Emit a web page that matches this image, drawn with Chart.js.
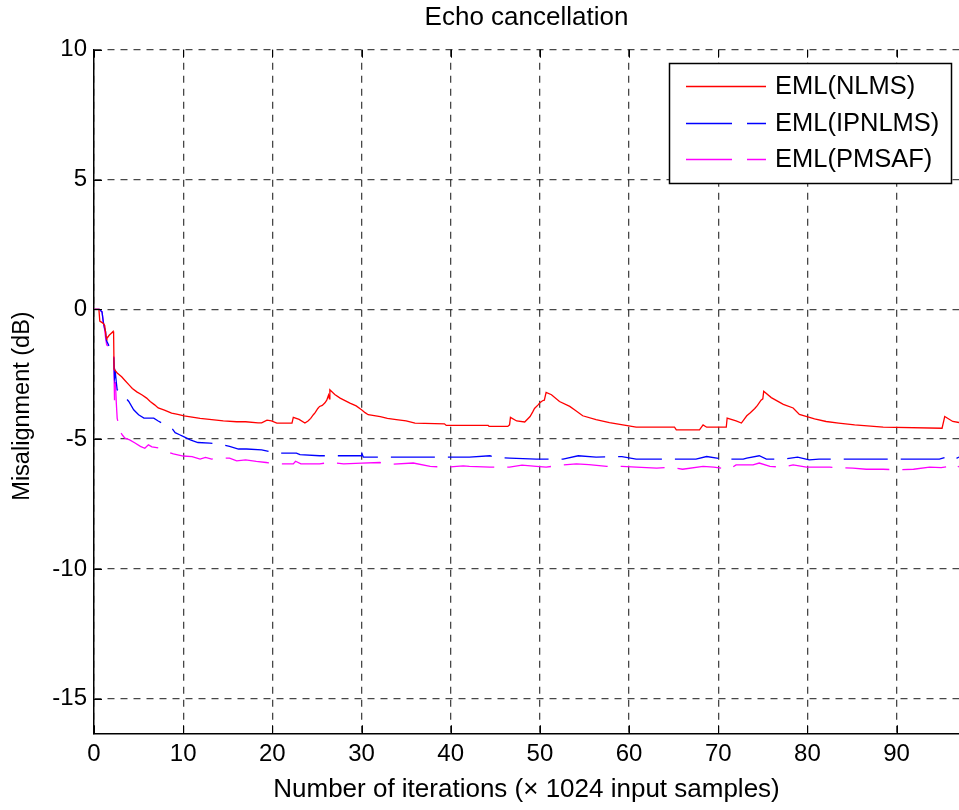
<!DOCTYPE html>
<html>
<head>
<meta charset="utf-8">
<title>Echo cancellation</title>
<script src="https://cdn.jsdelivr.net/npm/chart.js@4.4.0/dist/chart.umd.min.js"></script>
<style>
  html, body { margin: 0; padding: 0; background: #fff; }
  canvas { display: block; }
</style>
</head>
<body>
<canvas id="echoChart" width="959" height="810"></canvas>
<script>
// misalignment curves, [iteration (x1024 samples), dB]
const nlms = [
  [0, 0], [0.55, 0], [0.65, -0.45], [1.0, -0.53], [1.2, -0.62], [1.35, -1.05], [1.45, -1.12],
  [1.7, -1.0], [2.0, -0.9], [2.15, -0.85], [2.2, -0.95], [2.25, -2.3], [2.6, -2.45], [3.1, -2.6],
  [3.5, -2.75], [3.9, -2.9], [4.3, -3.05], [4.8, -3.18], [5.4, -3.3], [5.9, -3.42], [6.3, -3.55],
  [6.8, -3.68], [7.2, -3.8], [7.9, -3.88], [8.7, -4.0], [9.4, -4.05], [10.1, -4.1], [11.0, -4.15],
  [11.9, -4.2], [13.2, -4.25], [14.5, -4.3], [16.0, -4.33], [17.0, -4.33], [18.4, -4.37],
  [18.8, -4.37], [19.4, -4.27], [19.9, -4.3], [20.5, -4.38], [22.2, -4.38], [22.35, -4.16],
  [23.0, -4.24], [23.65, -4.38], [24.0, -4.3], [24.3, -4.2], [24.6, -4.06], [24.8, -3.98],
  [25.1, -3.82], [25.3, -3.74], [25.6, -3.7], [25.9, -3.6], [26.1, -3.5], [26.3, -3.3],
  [26.4, -3.45], [26.45, -3.1], [27.0, -3.28], [27.6, -3.42], [28.7, -3.61], [29.4, -3.72],
  [30.0, -3.87], [30.4, -3.98], [30.75, -4.06], [32.1, -4.13], [32.9, -4.2], [33.9, -4.25],
  [35.0, -4.3], [36.0, -4.38], [39.3, -4.41], [39.5, -4.47], [44.2, -4.47], [44.3, -4.51],
  [46.4, -4.51], [46.6, -4.45], [46.7, -4.16], [47.4, -4.3], [48.3, -4.34], [48.9, -4.13],
  [49.2, -3.95], [49.4, -3.82], [49.8, -3.68], [50.0, -3.6], [50.3, -3.52], [50.5, -3.5],
  [50.7, -3.2], [51.3, -3.29], [52.2, -3.55], [53.35, -3.74], [54.0, -3.9], [54.8, -4.1],
  [56.3, -4.25], [57.8, -4.36], [59.3, -4.45], [60.8, -4.54], [65.1, -4.54], [65.3, -4.64],
  [67.9, -4.64], [68.3, -4.45], [68.7, -4.54], [70.9, -4.54], [71.0, -4.19], [72.0, -4.3],
  [72.6, -4.38], [73.2, -4.1], [73.6, -3.98], [74.1, -3.82], [74.4, -3.7], [74.8, -3.5],
  [75.0, -3.45], [75.1, -3.16], [75.95, -3.4], [77.3, -3.66], [78.4, -3.8], [79.1, -4.05],
  [80.8, -4.22], [82.1, -4.32], [83.5, -4.38], [85.3, -4.45], [88.5, -4.54], [95.1, -4.58],
  [95.4, -4.13], [96.3, -4.32], [97, -4.36]
];

const ipnlms = [
  [0, 0], [0.6, 0], [0.9, -0.1], [1.05, -0.5], [1.2, -0.75], [1.3, -0.85], [1.4, -1.2],
  [1.6, -1.35], [1.8, -1.5], [2.0, -1.6], [2.2, -1.67], [2.3, -2.65], [2.4, -2.45], [2.5, -2.8],
  [2.6, -3.1], [2.9, -3.16], [3.4, -3.35], [3.9, -3.55], [4.45, -3.87], [5.0, -4.06],
  [5.6, -4.19], [6.2, -4.19], [6.7, -4.19], [7.2, -4.3], [7.6, -4.38], [8.2, -4.48],
  [8.7, -4.57], [9.1, -4.75], [9.6, -4.83], [10.05, -4.9], [10.8, -5.03], [11.65, -5.13],
  [13.0, -5.15], [14.2, -5.2], [15.2, -5.28], [16.2, -5.38], [17.1, -5.38], [18.8, -5.41],
  [19.7, -5.48], [20.1, -5.54], [22.7, -5.54], [23.1, -5.6], [25.3, -5.64], [27.0, -5.64],
  [30.0, -5.64], [30.05, -5.56], [30.2, -5.69], [33.0, -5.69], [36.0, -5.69], [39.15, -5.69],
  [42.1, -5.69], [44.4, -5.64], [45.0, -5.7], [46.6, -5.73], [49.6, -5.77], [52.6, -5.77],
  [54.3, -5.64], [56.3, -5.69], [59.2, -5.67], [60.8, -5.77], [64.0, -5.77], [67.5, -5.77],
  [68.7, -5.67], [70.6, -5.77], [72.8, -5.77], [73.2, -5.73], [74.6, -5.64], [75.4, -5.77],
  [77.4, -5.77], [78.9, -5.69], [80.2, -5.8], [81.3, -5.77], [82.5, -5.77], [87.7, -5.77],
  [89.4, -5.77], [93.7, -5.77], [94.8, -5.77], [95.6, -5.69], [96.4, -5.8], [97, -5.69]
];

const pmsaf = [
  [0, 0], [0.6, 0], [0.9, -0.1], [1.05, -0.5], [1.2, -0.8], [1.3, -1.1], [1.42, -1.36],
  [1.6, -1.45], [1.8, -1.5], [2.0, -1.55], [2.2, -1.6], [2.3, -3.5], [2.4, -2.8], [2.5, -3.6],
  [2.6, -4.2], [2.73, -4.38], [2.9, -4.7], [3.2, -4.85], [3.47, -4.96], [4.0, -5.03],
  [4.6, -5.15], [5.2, -5.28], [5.7, -5.35], [6.1, -5.22], [6.5, -5.3], [7.4, -5.35],
  [8.15, -5.48], [8.9, -5.57], [10.0, -5.65], [11.0, -5.67], [11.9, -5.77], [12.5, -5.7],
  [13.2, -5.77], [14.0, -5.73], [15.2, -5.73], [16.0, -5.84], [17.0, -5.8], [18.2, -5.86],
  [19.3, -5.9], [20.5, -5.95], [22.35, -5.95], [22.6, -5.85], [23.2, -5.95], [25.3, -5.95],
  [26.5, -5.9], [28.0, -5.95], [30.0, -5.92], [32.05, -5.9], [33.0, -5.97], [35.8, -5.92],
  [37.7, -6.05], [39.5, -6.08], [41.4, -6.03], [42.1, -6.05], [44.4, -6.08], [46.6, -6.08],
  [48.0, -6.0], [49.6, -6.05], [50.7, -6.08], [52.6, -5.99], [54.1, -5.95], [55.5, -5.98],
  [57.5, -6.05], [59.2, -6.05], [60.8, -6.08], [63.1, -6.12], [64.6, -6.08], [66.0, -6.16],
  [68.3, -6.05], [69.5, -6.08], [71.3, -6.16], [72.0, -5.99], [73.9, -5.99], [74.6, -5.92],
  [75.8, -6.05], [77.2, -6.08], [78.4, -5.99], [79.9, -6.08], [82.5, -6.08], [85.1, -6.12],
  [86.6, -6.16], [88.5, -6.16], [90.0, -6.18], [91.9, -6.16], [93.7, -6.08], [95.0, -6.1],
  [95.9, -6.05], [96.3, -6.15], [97, -6.05]
];

const seriesNames = ['EML(NLMS)', 'EML(IPNLMS)', 'EML(PMSAF)'];
const xTicks = [0, 10, 20, 30, 40, 50, 60, 70, 80, 90];
const yTicks = [10, 5, 0, -5, -10, -15];

const FONT = '"Liberation Sans", Arial, Helvetica, sans-serif';

function toPoints(arr) {
  return arr.map(p => ({ x: p[0], y: p[1] }));
}

// short inward tick marks on the axes box
const boxTicks = {
  id: 'boxTicks',
  afterDatasetsDraw(chart) {
    const { ctx, chartArea: a, scales: { x, y } } = chart;
    ctx.save();
    ctx.strokeStyle = '#000';
    ctx.lineWidth = 1;
    ctx.beginPath();
    xTicks.forEach(v => {
      const px = Math.round(x.getPixelForValue(v)) + 0.5;
      ctx.moveTo(px, a.bottom); ctx.lineTo(px, a.bottom - 8);
      ctx.moveTo(px, a.top); ctx.lineTo(px, a.top + 8);
    });
    yTicks.forEach(v => {
      const py = Math.round(y.getPixelForValue(v)) + 0.5;
      ctx.moveTo(a.left, py); ctx.lineTo(a.left + 8, py);
    });
    ctx.stroke();
    ctx.restore();
  }
};

// y axis label, rotated
const yLabel = {
  id: 'yLabel',
  afterDraw(chart) {
    const ctx = chart.ctx;
    ctx.save();
    ctx.translate(23, 406);
    ctx.rotate(-Math.PI / 2);
    ctx.font = '23.5px ' + FONT;
    ctx.fillStyle = '#000';
    ctx.textAlign = 'center';
    ctx.textBaseline = 'middle';
    ctx.fillText('Misalignment (dB)', 0, 0);
    ctx.restore();
  }
};

// boxed legend in the upper right corner
const boxLegend = {
  id: 'boxLegend',
  afterDraw(chart) {
    const ctx = chart.ctx;
    const left = 669.5, top = 63.5, w = 282, h = 120;
    ctx.save();
    ctx.fillStyle = '#fff';
    ctx.fillRect(left, top, w, h);
    ctx.strokeStyle = '#000';
    ctx.lineWidth = 1.5;
    ctx.strokeRect(left, top, w, h);
    const rows = [86, 123, 159];
    chart.data.datasets.forEach((ds, i) => {
      const yy = rows[i] + 0.5;
      ctx.strokeStyle = ds.borderColor;
      ctx.lineWidth = 1.3;
      ctx.setLineDash(ds.borderDash ? [46, 15] : []);
      ctx.beginPath();
      ctx.moveTo(686, yy);
      ctx.lineTo(766, yy);
      ctx.stroke();
      ctx.setLineDash([]);
      ctx.fillStyle = '#000';
      ctx.font = '25.5px ' + FONT;
      ctx.textBaseline = 'middle';
      ctx.textAlign = 'left';
      ctx.fillText(ds.label, 775, rows[i] + 1);
    });
    ctx.restore();
  }
};

new Chart(document.getElementById('echoChart'), {
  type: 'line',
  data: {
    datasets: [{
      label: seriesNames[0],
      data: toPoints(nlms),
      borderColor: 'rgb(255,0,0)',
      borderWidth: 1.3,
      pointRadius: 0,
      tension: 0,
      fill: false
    }, {
      label: seriesNames[1],
      data: toPoints(ipnlms),
      borderColor: 'rgb(0,0,255)',
      borderWidth: 1.3,
      borderDash: [44, 13],
      pointRadius: 0,
      tension: 0,
      fill: false
    }, {
      label: seriesNames[2],
      data: toPoints(pmsaf),
      borderColor: 'rgb(255,0,255)',
      borderWidth: 1.3,
      borderDash: [44, 13],
      pointRadius: 0,
      tension: 0,
      fill: false
    }]
  },
  options: {
    responsive: false,
    animation: false,
    layout: { padding: 0 },
    plugins: {
      legend: { display: false },
      tooltip: { enabled: false },
      title: {
        display: true,
        fullSize: false,
        text: 'Echo cancellation',
        color: '#000',
        font: { family: FONT, size: 26, weight: 'normal', lineHeight: 1 },
        padding: { top: 5, bottom: 18.7 }
      }
    },
    scales: {
      x: {
        type: 'linear',
        min: 0,
        max: 97,
        afterFit(s) { s.height = 76.7; },
        afterBuildTicks(s) { s.ticks = xTicks.map(v => ({ value: v })); },
        ticks: {
          color: '#000',
          font: { family: FONT, size: 24 },
          padding: 7,
          maxRotation: 0,
          includeBounds: false
        },
        grid: {
          color: 'rgba(0,0,0,0.72)',
          lineWidth: 1.3,
          drawTicks: false
        },
        border: { display: true, color: '#000', width: 1.5, dash: [7, 6] },
        title: {
          display: true,
          text: 'Number of iterations (\u00d7 1024 input samples)',
          color: '#000',
          font: { family: FONT, size: 26 },
          padding: { top: 0, bottom: 4.4 }
        }
      },
      y: {
        min: -16.33,
        max: 10,
        afterFit(s) { s.width = 94; },
        afterBuildTicks(s) { s.ticks = yTicks.map(v => ({ value: v })); },
        ticks: {
          color: '#000',
          font: { family: FONT, size: 24 },
          padding: 7
        },
        grid: {
          color: 'rgba(0,0,0,0.72)',
          lineWidth: 1.3,
          drawTicks: false
        },
        border: { display: true, color: '#000', width: 1.5, dash: [7, 6] }
      }
    }
  },
  plugins: [boxTicks, yLabel, boxLegend]
});
</script>
</body>
</html>
